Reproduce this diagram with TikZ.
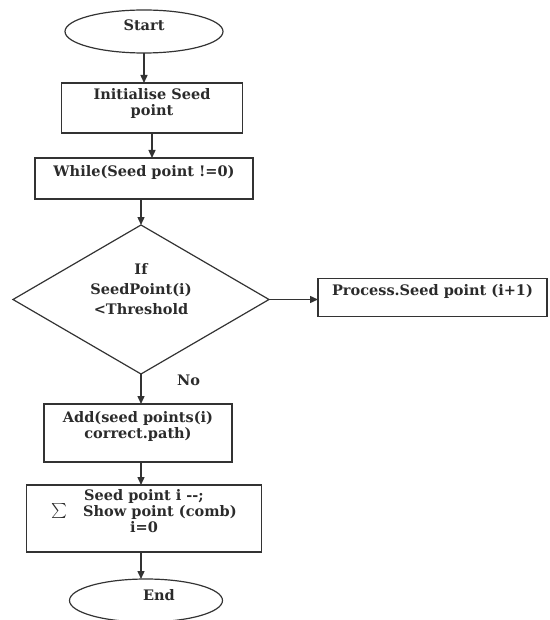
\documentclass[tikz,border=0pt]{standalone}
\usepackage{fontspec}
\setmainfont{DejaVu Serif}
\usetikzlibrary{arrows.meta, positioning, shapes.geometric}
\definecolor{lineink}{HTML}{333333}
\definecolor{textink}{HTML}{2B2B2B}
\tikzset{
  term/.style={draw=lineink, ellipse, minimum width=158pt, minimum height=43pt, inner sep=0pt, outer sep=0pt,
    font=\fontsize{14.5}{17}\selectfont\bfseries, text=textink, line width=1.2pt},
  pbox/.style={draw=lineink, rectangle, align=center, inner sep=2pt, outer sep=0pt,
    font=\fontsize{14.5}{16}\selectfont\bfseries, text=textink, line width=1.4pt},
  dbox/.style={draw=lineink, diamond, aspect=1.72, minimum width=256pt, minimum height=149pt,
    inner sep=0pt, outer sep=0pt, align=center, font=\fontsize{14.5}{20}\selectfont\bfseries, text=textink, line width=1.2pt},
  lbl/.style={inner sep=0pt, font=\fontsize{14.5}{17}\selectfont\bfseries, text=textink},
  lift/.style={execute at end node={\rule[-#1]{0pt}{0pt}}},
  flow/.style={-{Triangle[length=8pt,width=7pt]}, draw=lineink, line width=1.4pt}
}
\begin{document}
\begin{tikzpicture}
\useasboundingbox (0,0) rectangle (549pt,-620pt);
\node[term, lift=12pt] (start) at (144pt,-31.5pt) {Start};
\node[pbox, lift=12pt, minimum width=181pt, minimum height=50pt, below=30pt of start, xshift=8pt] (init) {Initialise Seed\\point};
\node[pbox, lift=16pt, minimum width=218pt, minimum height=41pt, below=25pt of init, xshift=-8pt] (loop) {While(Seed point !=0)};
\node[dbox, lift=21pt, below=26pt of loop, xshift=-3pt] (cond) {If\\SeedPoint(i)\\<Threshold};
\node[pbox, lift=16pt, minimum width=229pt, minimum height=38pt, right=49pt of cond, yshift=2pt] (next) {Process.Seed point (i+1)};
\node[lbl, right=36pt of cond.south, yshift=-6pt] (no) {No};
\node[pbox, lift=16pt, minimum width=188pt, minimum height=58pt, below=30pt of cond, xshift=-3pt] (add) {Add(seed points(i)\\correct.path)};
\node[pbox, lift=16pt, minimum width=235pt, minimum height=67pt, below=23pt of add, xshift=6pt] (show) {Seed point i {-}{-};\\\scalebox{1.5}{$\sum$}\hspace{16pt}Show point (comb)\\i=0};
\node[term, lift=12pt, minimum width=153pt, below=27pt of show, xshift=2pt] (end) {\hspace*{26pt}End};
\draw[flow] (start) -- (start |- init.north);
\draw[flow] (init) -- (init |- loop.north);
\draw[flow] (loop.south -| cond.north) -- (cond.north);
\draw[flow] (cond.east) -- (cond.east -| next.west);
\draw[flow] (cond) -- (cond |- add.north);
\draw[flow] (add.south -| cond.south) -- (cond.south |- show.north);
\draw[flow] (show.south -| cond.south) -- (cond.south |- end.north);
\end{tikzpicture}
\end{document}
